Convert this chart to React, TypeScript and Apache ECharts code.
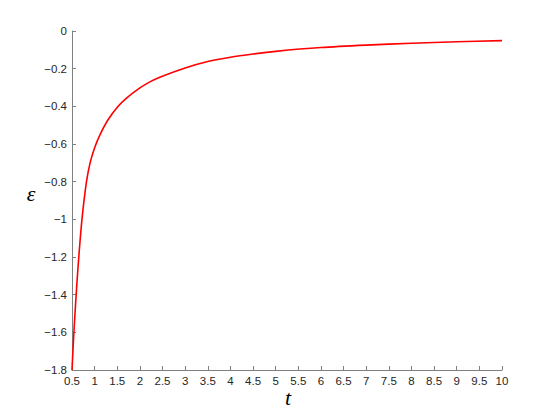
import React, { useEffect, useRef } from "react";
import * as echarts from "echarts";

// Values
const tValues = [0.5, 0.52, 0.55, 0.6, 0.65, 0.72, 0.82, 0.9, 1.0, 1.12, 1.3, 1.52, 1.71, 2.0, 2.22, 2.44, 3.0, 3.5, 4.0, 4.5, 5.0, 6.0, 7.0, 8.0, 9.0, 10.0];
const epsValues = [-1.8, -1.7, -1.565, -1.37, -1.2, -1.0, -0.8, -0.7, -0.62, -0.55, -0.47, -0.4, -0.355, -0.302, -0.27, -0.245, -0.196, -0.162, -0.139, -0.122, -0.108, -0.088, -0.075, -0.065, -0.057, -0.051];

const xAxisMin = 0.5;
const xAxisMax = 10;
const xAxisStep = 0.5;
const yAxisMin = -1.8;
const yAxisMax = 0;
const yAxisStep = 0.2;

const xName = "t";
const yName = "ε";

const fmt = (v: number) => {
  const n = Number(v.toFixed(2));
  return String(n).replace("-", "\u2212");
};

export default function App() {
  const ref = useRef<HTMLDivElement>(null);
  useEffect(() => {
    if (!ref.current) return;
    const chart = echarts.init(ref.current, undefined, { renderer: "svg" });
    const axisColor = "#808080";
    const labelStyle = {
      color: "#262626",
      fontFamily: "Liberation Sans, Arial, sans-serif",
      fontSize: 11.5,
    };
    chart.setOption({
      animation: false,
      backgroundColor: "#ffffff",
      grid: { left: 64, right: 44, top: 23, bottom: 39, containLabel: false },
      xAxis: {
        type: "value",
        min: xAxisMin,
        max: xAxisMax,
        interval: xAxisStep,
        axisLine: { show: true, onZero: false, lineStyle: { color: axisColor, width: 1 } },
        axisTick: { show: true, inside: true, length: 4, lineStyle: { color: axisColor } },
        splitLine: { show: false },
        axisLabel: { ...labelStyle, margin: 5, formatter: fmt, showMinLabel: true, showMaxLabel: true },
      },
      yAxis: {
        type: "value",
        min: yAxisMin,
        max: yAxisMax,
        interval: yAxisStep,
        axisLine: { show: true, onZero: false, lineStyle: { color: axisColor, width: 1 } },
        axisTick: { show: true, inside: true, length: 4, lineStyle: { color: axisColor } },
        splitLine: { show: false },
        axisLabel: { ...labelStyle, margin: 5, formatter: fmt, showMinLabel: true, showMaxLabel: true },
      },
      graphic: [
        {
          type: "text",
          x: 23,
          y: 185,
          style: {
            text: yName,
            fontFamily: "Liberation Serif, DejaVu Serif, serif",
            fontStyle: "italic",
            fontSize: 22,
            fill: "#000",
            textAlign: "center",
            textVerticalAlign: "middle",
          },
        },
        {
          type: "text",
          x: 280,
          y: 389,
          style: {
            text: xName,
            fontFamily: "Liberation Serif, DejaVu Serif, serif",
            fontStyle: "italic",
            fontSize: 22,
            fill: "#000",
            textAlign: "center",
            textVerticalAlign: "middle",
          },
        },
      ],
      series: [
        {
          type: "line",
          data: tValues.map((t, i) => [t, epsValues[i]]),
          showSymbol: false,
          smooth: 0.3,
          lineStyle: { color: "#ff0000", width: 1.6 },
          clip: false,
        },
      ],
    });
    return () => chart.dispose();
  }, []);
  return <div ref={ref} style={{ width: 538, height: 401 }} />;
}
